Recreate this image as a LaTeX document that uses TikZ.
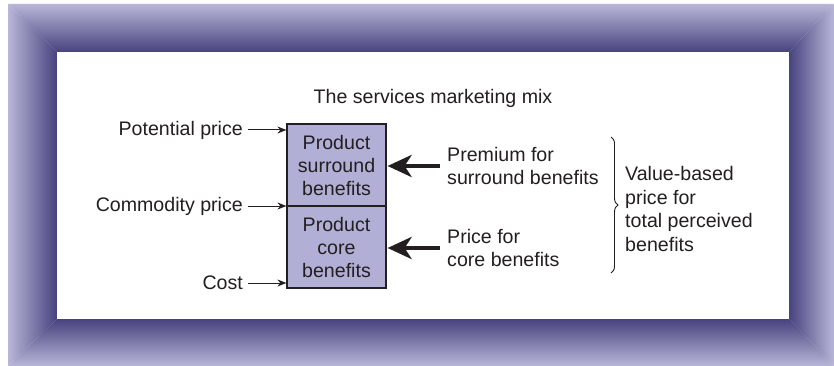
\documentclass[tikz,border=0pt]{standalone}
\usepackage{fontspec}
\setmainfont{Liberation Sans}
\usetikzlibrary{arrows.meta,decorations.pathreplacing}
\definecolor{frameLight}{HTML}{B8B6D8}
\definecolor{frameDark}{HTML}{48437F}
\definecolor{boxFill}{HTML}{B1AFD5}
\definecolor{ink}{HTML}{231F20}
\tikzset{
  lbl/.style={font=\fontsize{19.6}{23.5}\selectfont, text=ink, inner sep=0pt},
  benefitbox/.style={draw=ink, line width=1.2pt, fill=boxFill, minimum width=99pt, minimum height=82pt, inner sep=0pt, align=center, font=\fontsize{19.6}{23}\selectfont, text=ink},
  thinarrow/.style={draw=ink, line width=1pt, -{Stealth[length=9pt,width=7pt]}},
  thickarrow/.style={draw=ink, line width=4.5pt, -{Stealth[length=24pt,width=22pt,inset=7pt]}},
}
\begin{document}
\begin{tikzpicture}[x=1pt,y=-1pt]
\useasboundingbox (0,0) rectangle (834,366);
% frame
\shade[top color=frameLight, bottom color=frameDark] (8,4) -- (834,4) -- (789,52) -- (57,52) -- cycle;
\shade[top color=frameDark, bottom color=frameLight] (57,319) -- (789,319) -- (834,366) -- (8,366) -- cycle;
\shade[left color=frameLight, right color=frameDark] (8,4) -- (57,52) -- (57,319) -- (8,366) -- cycle;
\shade[left color=frameDark, right color=frameLight] (834,4) -- (834,366) -- (789,319) -- (789,52) -- cycle;
\fill[white] (57,52) rectangle (789,319);
% title
\node[lbl] (title) at (433,98) {The services marketing mix};
% boxes
\node[benefitbox] (surr) at (336.5,165) {Product\\surround\\benefits};
\node[benefitbox] (core) at (336.5,247) {Product\\core\\benefits};
% left labels
\node[lbl, anchor=east] (pp) at (243,130) {Potential price};
\node[lbl, anchor=east] (cp) at (243,206) {Commodity price};
\node[lbl, anchor=east] (cost) at (243,283) {Cost};
\draw[thinarrow] ([xshift=5pt]pp.east) -- (pp.east -| surr.west);
\draw[thinarrow] ([xshift=5pt]cp.east) -- (cp.east -| surr.west);
\draw[thinarrow] ([xshift=5pt]cost.east) -- (cost.east -| core.west);
% right labels
\node[lbl, anchor=west, align=left] (prem) at (447,166) {Premium for\\surround benefits};
\node[lbl, anchor=west, align=left] (pcore) at (447,248) {Price for\\core benefits};
\draw[thickarrow] ([xshift=-7pt]prem.west) -- ([xshift=1pt]prem.west -| surr.east);
\draw[thickarrow] ([xshift=-7pt]pcore.west) -- ([xshift=1pt]pcore.west -| core.east);
% brace
\coordinate (btop) at (611,137);
\coordinate (bbot) at (611,273);
\draw[ink, line width=0.9pt, decorate, decoration={brace, amplitude=7pt}] (btop) -- (bbot);
\node[lbl, anchor=west, align=left] (value) at (625,209) {Value-based\\price for\\total perceived\\benefits};
\end{tikzpicture}
\end{document}
